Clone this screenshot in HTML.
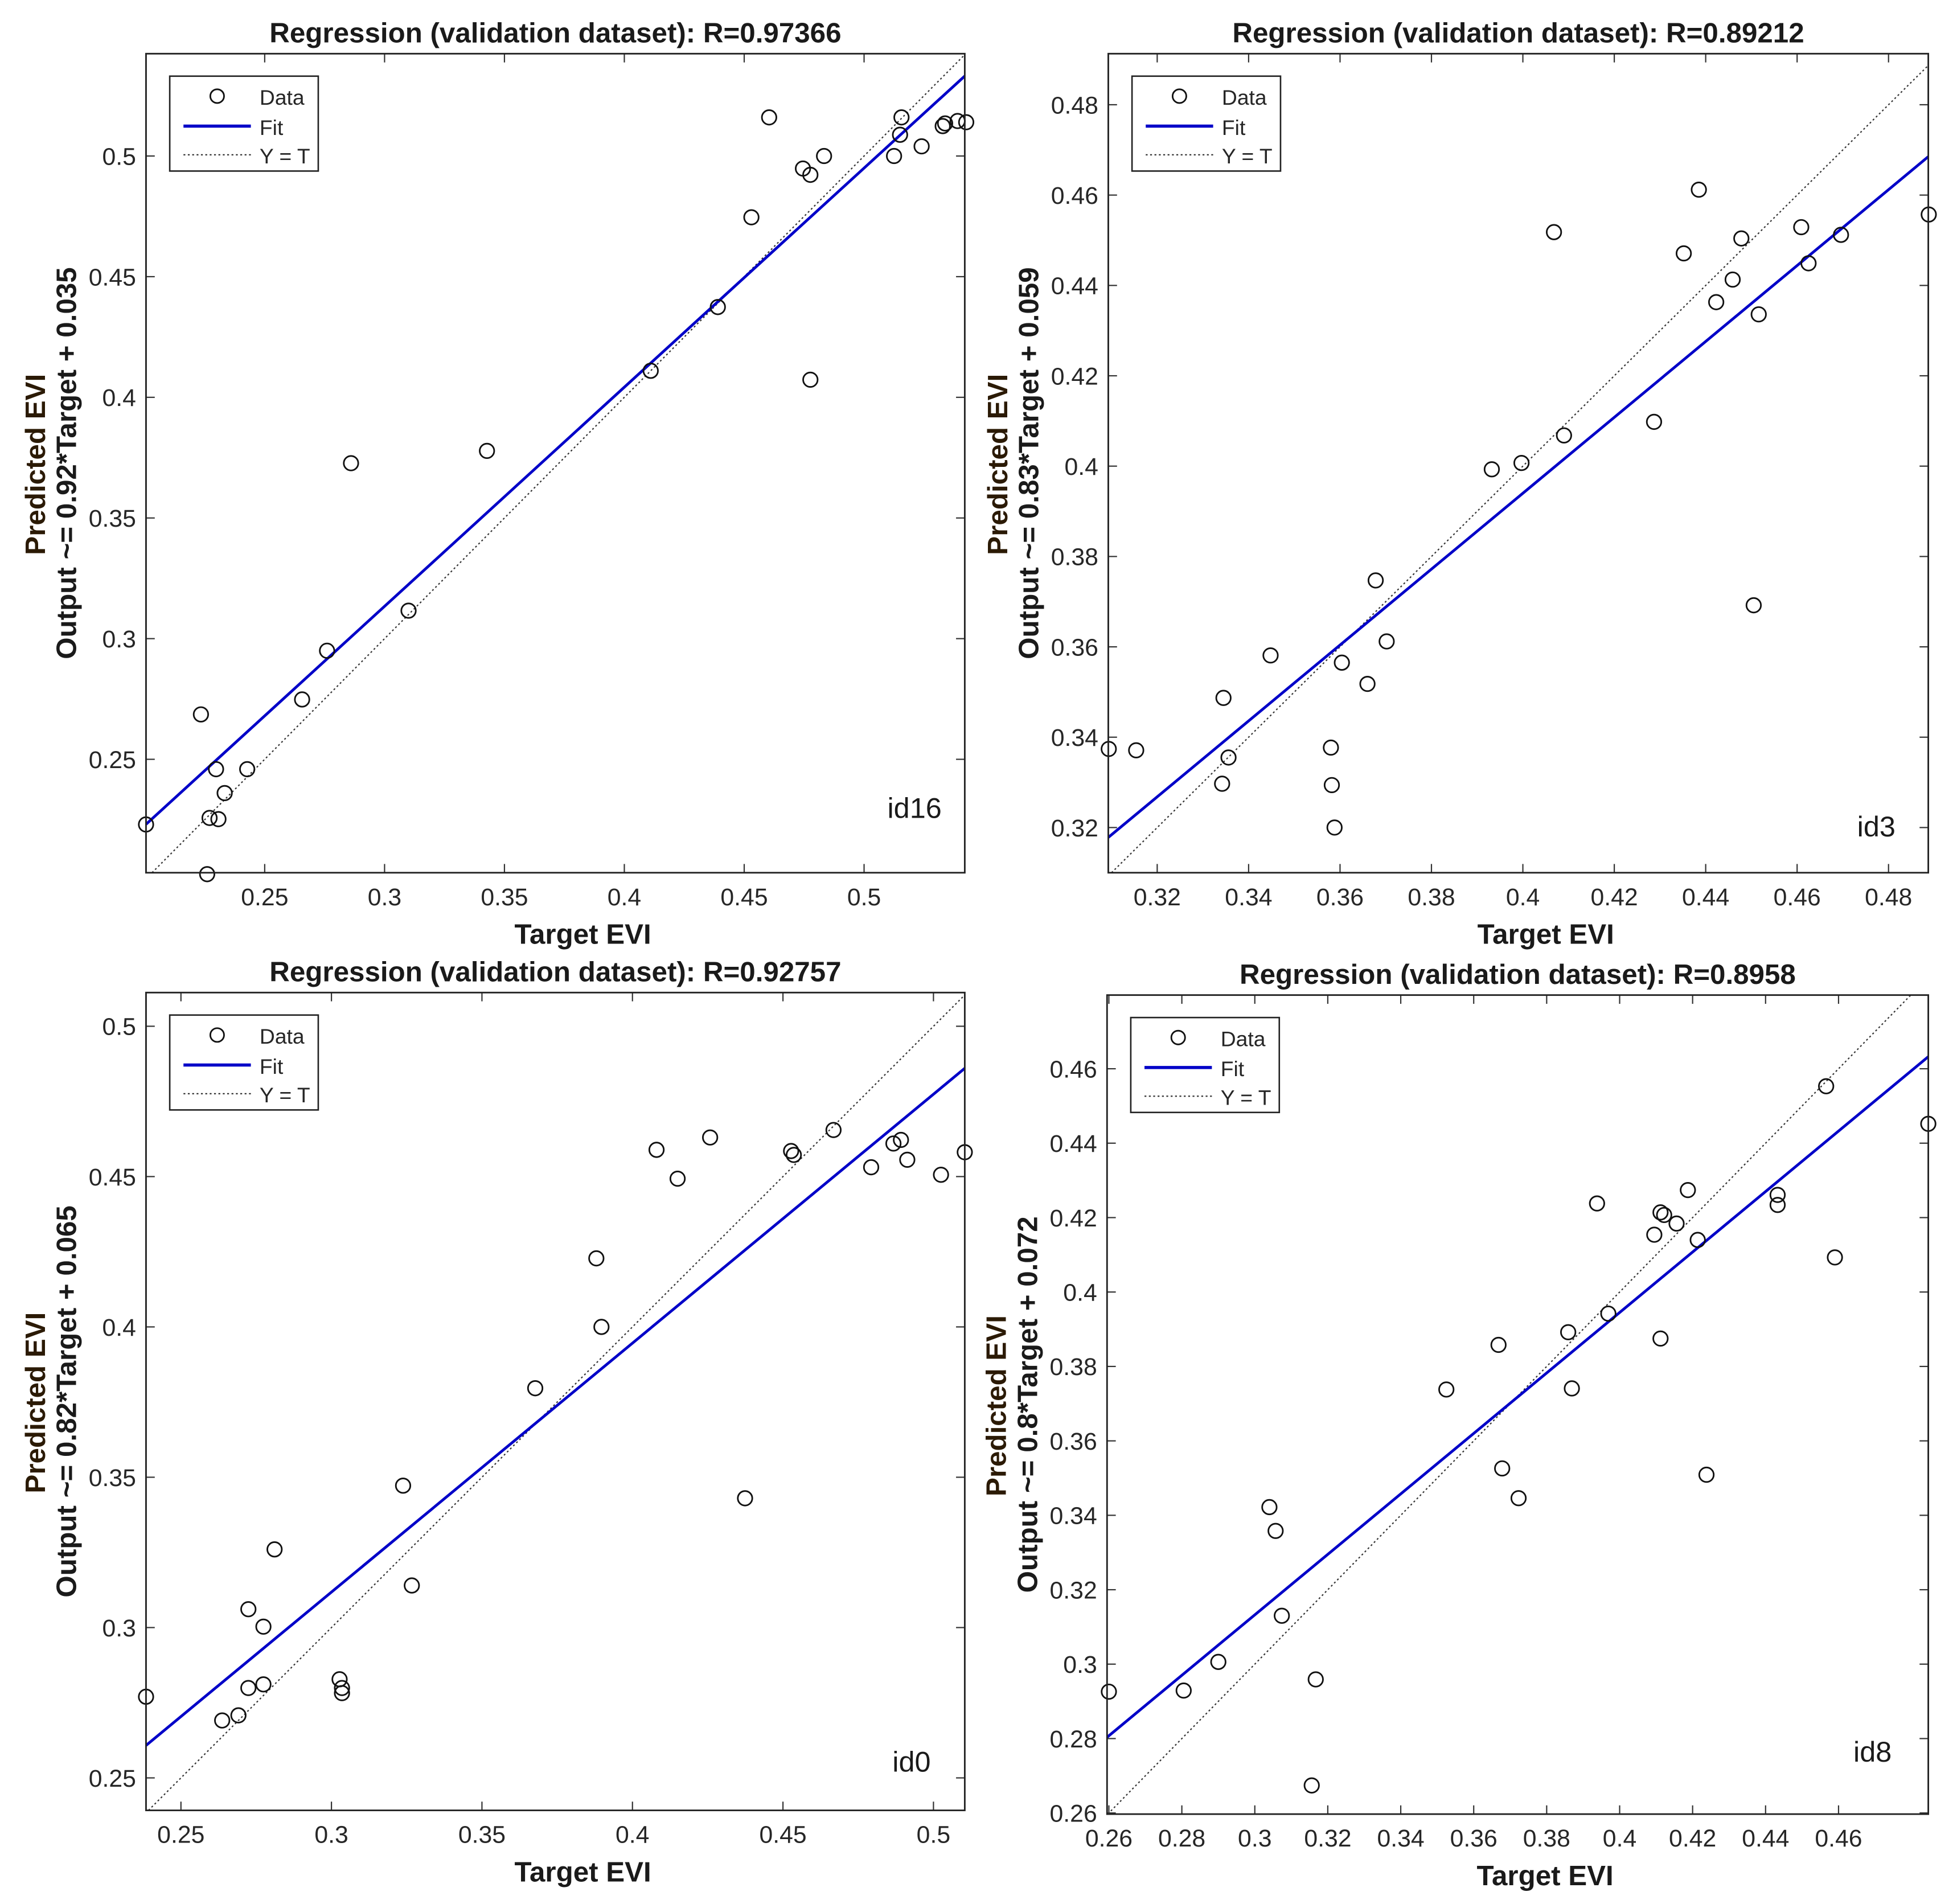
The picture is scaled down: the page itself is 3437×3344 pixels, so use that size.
<!DOCTYPE html>
<html><head><meta charset="utf-8"><style>
html,body{margin:0;padding:0;background:#fff;}
svg{display:block;font-family:"Liberation Sans",Arial,sans-serif;}
</style></head><body>
<svg id="chart" width="3437" height="3344" viewBox="0 0 1568 1525" preserveAspectRatio="none" xmlns="http://www.w3.org/2000/svg"></svg>
<script>
// Panel 1 (id16)
const p1X = [.2005,.2234,.226,.227,.2307,.2297,.2333,.2427,.2656,.276,.286,.31,.3427,.411,.439,.453,.4604,.4745,.4776,.4833,.4776,.5125,.515,.5156,.524,.5328,.5338,.539,.5426];
const p1Y = [.223,.2686,.2024,.2257,.2252,.2459,.236,.2459,.2748,.295,.3727,.3116,.3778,.411,.4374,.4746,.516,.4948,.4922,.5,.4073,.5,.5088,.516,.504,.5124,.5135,.5145,.514];
const p1XTicks = ['0.25','0.3','0.35','0.4','0.45','0.5'];
const p1YTicks = ['0.25','0.3','0.35','0.4','0.45','0.5'];
const p1Fit = [0.908, 0.041];
// Panel 2 (id3)
const p2X = [.3094,.3154,.3345,.3342,.3356,.3448,.358,.3582,.3588,.3604,.366,.3678,.3702,.3932,.3997,.409,.4068,.4287,.4352,.4385,.4423,.4459,.4478,.4505,.4516,.4609,.4625,.4696,.4888];
const p2Y = [.3374,.3371,.3487,.3297,.3355,.3581,.3377,.3294,.32,.3565,.3518,.3747,.3612,.3993,.4007,.4068,.4518,.4098,.4471,.4612,.4363,.4413,.4504,.3692,.4336,.4529,.4449,.4512,.4557];
const p2XTicks = ['0.32','0.34','0.36','0.38','0.4','0.42','0.44','0.46','0.48'];
const p2YTicks = ['0.32','0.34','0.36','0.38','0.4','0.42','0.44','0.46','0.48'];
const p2Fit = [0.84, 0.058];
// Panel 3 (id0)
const p3X = [.2384,.2637,.2691,.2724,.2724,.2774,.2774,.2811,.3027,.3035,.3035,.3238,.3267,.3677,.388,.3897,.408,.415,.4258,.4374,.4527,.4536,.4668,.4793,.4867,.4892,.4913,.5025,.5104];
const p3Y = [.277,.2691,.2708,.2799,.3061,.3003,.2811,.326,.2828,.2799,.2782,.3472,.314,.3796,.4228,.4,.4589,.4493,.463,.343,.4585,.4572,.4655,.4531,.461,.4622,.4556,.4506,.4581];
const p3XTicks = ['0.25','0.3','0.35','0.4','0.45','0.5'];
const p3YTicks = ['0.25','0.3','0.35','0.4','0.45','0.5'];
const p3Fit = [0.828, 0.0634];
// Panel 4 (id8)
const p4X = [.26,.2805,.29,.304,.3057,.3074,.3167,.3156,.3525,.3668,.3678,.3723,.3859,.3869,.3938,.3969,.4095,.4112,.4122,.4156,.4187,.4214,.4112,.4238,.4433,.4433,.4566,.459,.4846];
const p4Y = [.2926,.2929,.3006,.3422,.3358,.313,.2959,.2674,.3738,.3858,.3526,.3446,.3892,.3741,.4238,.3942,.4154,.4214,.4207,.4184,.4274,.414,.3875,.3509,.4261,.4234,.4553,.4093,.4452];
const p4XTicks = ['0.26','0.28','0.3','0.32','0.34','0.36','0.38','0.4','0.42','0.44','0.46'];
const p4YTicks = ['0.26','0.28','0.3','0.32','0.34','0.36','0.38','0.4','0.42','0.44','0.46'];
const p4Fit = [0.8125, 0.0695];

const NS='http://www.w3.org/2000/svg';
const svg=document.getElementById('chart');
function mk(tag,attrs,parent,text){const e=document.createElementNS(NS,tag);for(const k in attrs)e.setAttribute(k,attrs[k]);if(text!==undefined)e.textContent=text;(parent||svg).appendChild(e);return e;}

function panel(cfg){
  const g=mk('g',{});
  
  
  const L=cfg.box[0],R=cfg.box[1],T=cfg.box[2],B=cfg.box[3];
  const sx=v=>L+(v-cfg.xr[0])/(cfg.xr[1]-cfg.xr[0])*(R-L);
  const sy=v=>B-(v-cfg.yr[0])/(cfg.yr[1]-cfg.yr[0])*(B-T);
  const cid='clip'+cfg.name;
  const cp=mk('clipPath',{id:cid},g);mk('rect',{x:L,y:T,width:R-L,height:B-T},cp);
  const t=mk('text',{x:(L+R)/2,y:T-9,'text-anchor':'middle','font-size':22.5,'font-weight':'bold',fill:'#1a1a1a'},g,cfg.title);
  
  
  cfg.xt.forEach(s=>{const v=parseFloat(s),x=sx(v);
    mk('line',{x1:x,x2:x,y1:B,y2:B-7,stroke:'#333','stroke-width':1},g);
    mk('line',{x1:x,x2:x,y1:T,y2:T+7,stroke:'#333','stroke-width':1},g);
    const tl=mk('text',{x:x,y:B+26,'text-anchor':'middle','font-size':19.5,fill:'#262626'},g,s);
    
    
  });
  cfg.yt.forEach(s=>{const v=parseFloat(s),y=sy(v);
    mk('line',{x1:L,x2:L+7,y1:y,y2:y,stroke:'#333','stroke-width':1},g);
    mk('line',{x1:R,x2:R-7,y1:y,y2:y,stroke:'#333','stroke-width':1},g);
    const tl=mk('text',{x:L-8,y:y+7,'text-anchor':'end','font-size':19.5,fill:'#262626'},g,s);
    
    
  });
  const xl=mk('text',{x:(L+R)/2+22,y:B+57,'text-anchor':'middle','font-size':22.5,'font-weight':'bold',fill:'#1a1a1a'},g,'Target EVI');
  
  
  const cy=(T+B)/2;
  const y1=mk('text',{x:0,y:0,'text-anchor':'middle','font-size':22.5,'font-weight':'bold',fill:'#2b1a05',transform:`translate(${L-81},${cy+1}) rotate(-90)`},g,'Predicted EVI');
  
  
  const y2=mk('text',{x:0,y:0,'text-anchor':'middle','font-size':22.5,'font-weight':'bold',fill:'#1a1a1a',transform:`translate(${L-56},${cy}) rotate(-90)`},g,cfg.eq);
  
  
  const cg=mk('g',{'clip-path':`url(#${cid})`},g);
  const lo=Math.max(cfg.xr[0],cfg.yr[0]),hi=Math.min(cfg.xr[1],cfg.yr[1]);
  const yt=mk('line',{x1:sx(lo),y1:sy(lo),x2:sx(hi),y2:sy(hi),stroke:'#333','stroke-width':1,'stroke-dasharray':'1.5,2'},cg);
  
  
  const f=cfg.fit,x0=cfg.xr[0],x1=cfg.xr[1];
  const fl=mk('line',{x1:sx(x0),y1:sy(f[0]*x0+f[1]),x2:sx(x1),y2:sy(f[0]*x1+f[1]),stroke:'#0000c8','stroke-width':2.2},cg);
  
  
  cfg.x.forEach((v,i)=>{
    const c=mk('circle',{cx:sx(v),cy:sy(cfg.y[i]),r:5.8,fill:'none',stroke:'#111','stroke-width':1.3},g);
    
    
  });
  mk('rect',{x:L,y:T,width:R-L,height:B-T,fill:'none',stroke:'#222','stroke-width':1.3},g);
  const lx=L+19,ly=T+18;
  const lg=mk('g',{},g);
  
  
  mk('rect',{x:lx,y:ly,width:119,height:76,fill:'#fff',stroke:'#222','stroke-width':1.2},lg);
  mk('circle',{cx:lx+38,cy:ly+16,r:5.5,fill:'none',stroke:'#111','stroke-width':1.3},lg);
  mk('text',{x:lx+72,y:ly+23,'font-size':17,fill:'#262626'},lg,'Data');
  mk('line',{x1:lx+11,x2:lx+65,y1:ly+40,y2:ly+40,stroke:'#0000c8','stroke-width':2.5},lg);
  mk('text',{x:lx+72,y:ly+47,'font-size':17,fill:'#262626'},lg,'Fit');
  mk('line',{x1:lx+11,x2:lx+65,y1:ly+63,y2:ly+63,stroke:'#333','stroke-width':1,'stroke-dasharray':'1.5,2'},lg);
  mk('text',{x:lx+72,y:ly+70,'font-size':17,fill:'#262626'},lg,'Y = T');
  const id=mk('text',{x:cfg.idp[0],y:cfg.idp[1],'font-size':23,fill:'#1a1a1a'},g,cfg.id);
  
  
}

panel({name:'panel-id16',box:[117,773,43,699],xr:[.2005,.542],yr:[.203,.5424],x:p1X,y:p1Y,xt:p1XTicks,yt:p1YTicks,fit:p1Fit,title:'Regression (validation dataset): R=0.97366',eq:'Output ~= 0.92*Target + 0.035',id:'id16',idp:[711,655]});
panel({name:'panel-id3',box:[888,1545,43,699],xr:[.3093,.4887],yr:[.31,.4913],x:p2X,y:p2Y,xt:p2XTicks,yt:p2YTicks,fit:p2Fit,title:'Regression (validation dataset): R=0.89212',eq:'Output ~= 0.83*Target + 0.059',id:'id3',idp:[1488,670]});
panel({name:'panel-id0',box:[117,773,795,1450],xr:[.2384,.5104],yr:[.2392,.5112],x:p3X,y:p3Y,xt:p3XTicks,yt:p3YTicks,fit:p3Fit,title:'Regression (validation dataset): R=0.92757',eq:'Output ~= 0.82*Target + 0.065',id:'id0',idp:[715,1419]});
panel({name:'panel-id8',box:[887,1545,797,1453],xr:[.2595,.4846],yr:[.2597,.4798],x:p4X,y:p4Y,xt:p4XTicks,yt:p4YTicks,fit:p4Fit,title:'Regression (validation dataset): R=0.8958',eq:'Output ~= 0.8*Target + 0.072',id:'id8',idp:[1485,1411]});
</script>
</body></html>
